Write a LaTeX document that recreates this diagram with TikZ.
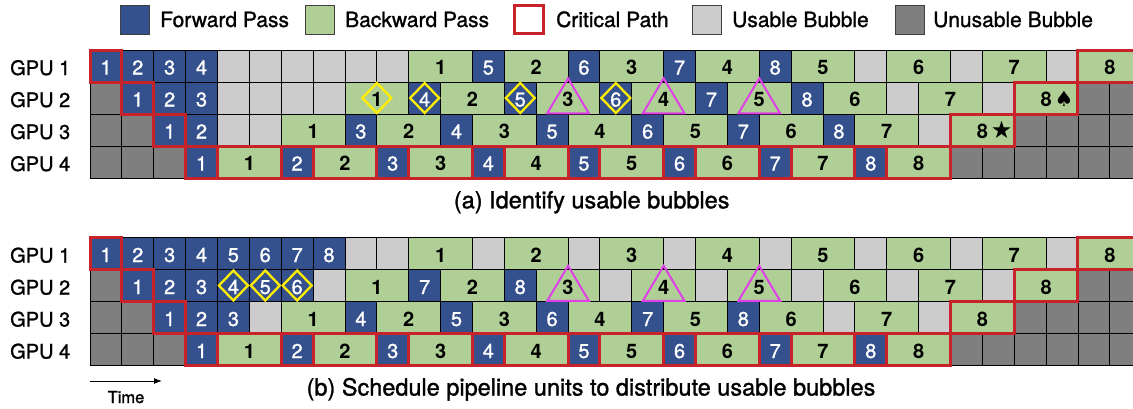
\documentclass[tikz,border=0pt]{standalone}
\usepackage{fontspec}
\setmainfont{TeX Gyre Heros}
\newfontfamily\medfont[FakeBold=1.2]{TeX Gyre Heros}
\newfontfamily\symfont{DejaVu Sans}
\usetikzlibrary{arrows.meta}
\pgfdeclarelayer{fg}
\pgfsetlayers{main,fg}
\definecolor{fwd}{HTML}{34518D}
\definecolor{bwd}{HTML}{B0CF96}
\definecolor{ubub}{HTML}{CCCCCC}
\definecolor{nbub}{HTML}{7F7F7F}
\definecolor{crit}{HTML}{C8232B}
\definecolor{dyel}{HTML}{FFEE00}
\definecolor{tmag}{HTML}{E040E8}
\newcount\colidx
\def\cw{31.87}
\def\rh{32}
\tikzset{
  cellbox/.style={draw=black, line width=0.9pt},
  fwdcell/.style={cellbox, fill=fwd},
  bwdcell/.style={cellbox, fill=bwd},
  ubcell/.style={cellbox, fill=ubub},
  nbcell/.style={cellbox, fill=nbub},
  critline/.style={draw=crit, line width=3pt},
  fwdnum/.style={text=white, font=\medfont\fontsize{20}{20}\selectfont, anchor=base, inner sep=0pt},
  bwdnum/.style={text=black, font=\bfseries\fontsize{20}{20}\selectfont, anchor=base, inner sep=0pt},
  dline/.style={draw=dyel, line width=2.3pt},
  tline/.style={draw=tmag, line width=2pt},
  legbox/.style={draw=black!75, line width=0.8pt},
  legtext/.style={font=\medfont\fontsize{21}{21}\selectfont, anchor=base west, inner sep=0pt},
  gputext/.style={font=\medfont\fontsize{20}{20}\selectfont, anchor=base west, inner sep=0pt},
  captext/.style={font=\medfont\fontsize{23.5}{23.5}\selectfont, anchor=base, inner sep=0pt},
}
\newcommand\spadesym{\rlap{\hspace{3pt}{\symfont\fontsize{21}{21}\selectfont ♠}}}
\newcommand\starsym{\rlap{\hspace{3pt}{\symfont\fontsize{24}{24}\selectfont ★}}}
\newcommand\cellgeo[1]{%
  \pgfmathsetmacro\xa{90+\the\colidx*\cw}%
  \pgfmathsetmacro\xb{\xa+#1*\cw}%
  \pgfmathsetmacro\xm{(\xa+\xb)/2}%
  \pgfmathtruncatemacro\ci{\the\colidx}%
}
\newcommand\cellTU[1]{\cellgeo{1}\path[ubcell] (\xa,\ry) rectangle (\xb,\ry+\rh);\global\advance\colidx by 1\relax}
\newcommand\cellTX[1]{\cellgeo{1}\path[nbcell] (\xa,\ry) rectangle (\xb,\ry+\rh);\global\advance\colidx by 1\relax}
\newcommand\cellTF[1]{\cellgeo{1}\path[fwdcell] (\xa,\ry) rectangle (\xb,\ry+\rh);\node[fwdnum] (\rid-\ci) at (\xm,\ry+24.5) {#1};\global\advance\colidx by 1\relax}
\newcommand\cellTB[1]{\cellgeo{2}\path[bwdcell] (\xa,\ry) rectangle (\xb,\ry+\rh);\node[bwdnum] (\rid-\ci) at (\xm,\ry+24.5) {#1};\global\advance\colidx by 2\relax}
\newcommand\critbox{\begin{pgfonlayer}{fg}\draw[critline] (\xa,\ry) rectangle (\xb,\ry+\rh);\end{pgfonlayer}}
\newcommand\dmark{\begin{pgfonlayer}{fg}\draw[dline] (\xm-14.5,\ry+16) -- (\xm,\ry+1) -- (\xm+14.5,\ry+16) -- (\xm,\ry+31) -- cycle;\end{pgfonlayer}}
\newcommand\tmark{\begin{pgfonlayer}{fg}\draw[tline] (\xm,\ry-3.7) -- (\xm+20.8,\ry+31.3) -- (\xm-20.8,\ry+31.3) -- cycle;\end{pgfonlayer}}
\newcommand\cellTFc[1]{\cellTF{#1}\critbox}
\newcommand\cellTBc[1]{\cellTB{#1}\critbox}
\newcommand\cellTFd[1]{\cellTF{#1}\dmark}
\newcommand\cellTBd[1]{\cellTB{#1}\dmark}
\newcommand\cellTBt[1]{\cellTB{#1}\tmark}
\newcommand\runrow[3]{% #1 id, #2 top y, #3 list
  \def\rid{#1}\def\ry{#2}%
  \global\colidx=0
  \foreach \t/\n in {#3} {\csname cellT\t\endcsname{\n}}%
}
\begin{document}
\begin{tikzpicture}[x=1pt,y=-1pt]
\useasboundingbox (0,0) rectangle (1133,408);
\clip (0,0) rectangle (1133,408);
\fill[white] (0,0) rectangle (1133,408);
% legend
\path[legbox, fill=fwd] (120,5) rectangle (149,34);
\node[legtext] (lf) at (160,27) {Forward Pass};
\path[legbox, fill=bwd] (305.5,5) rectangle (334.5,34);
\node[legtext] (lb) at (345,27) {Backward Pass};
\draw[critline, fill=white] (514.8,5.5) rectangle (543.5,33.5);
\node[legtext] (lc) at (556,27) {Critical Path};
\path[legbox, fill=ubub] (692.5,5) rectangle (721.5,34);
\node[legtext] (lu) at (732,27) {Usable Bubble};
\path[legbox, fill=nbub] (895.5,5) rectangle (924.5,34);
\node[legtext] (ln) at (933,27) {Unusable Bubble};
% ---------- panel (a)
\foreach \i/\y in {1/50,2/82,3/114,4/146} {\node[gputext] (ga\i) at (10,\y+25) {GPU \i};}
\runrow{a1}{50}{Fc/1,F/2,F/3,F/4,U/0,U/0,U/0,U/0,U/0,U/0,B/1,F/5,B/2,F/6,B/3,F/7,B/4,F/8,B/5,U/0,B/6,U/0,B/7,U/0,Bc/8}
\runrow{a2}{82}{X/0,Fc/1,F/2,F/3,U/0,U/0,U/0,U/0,Bd/1,Fd/4,B/2,Fd/5,Bt/3,Fd/6,Bt/4,F/7,Bt/5,F/8,B/6,U/0,B/7,U/0,Bc/8\spadesym,X/0,X/0}
\runrow{a3}{114}{X/0,X/0,Fc/1,F/2,U/0,U/0,B/1,F/3,B/2,F/4,B/3,F/5,B/4,F/6,B/5,F/7,B/6,F/8,B/7,U/0,Bc/8\starsym,X/0,X/0,X/0,X/0}
\runrow{a4}{146}{X/0,X/0,X/0,Fc/1,Bc/1,Fc/2,Bc/2,Fc/3,Bc/3,Fc/4,Bc/4,Fc/5,Bc/5,Fc/6,Bc/6,Fc/7,Bc/7,Fc/8,Bc/8,X/0,X/0,X/0,X/0,X/0,X/0}
\node[captext] (capa) at (591.7,208.3) {(a) Identify usable bubbles};
% ---------- panel (b)
\foreach \i/\y in {1/237.5,2/269.5,3/301.5,4/333.5} {\node[gputext] (gb\i) at (10,\y+25) {GPU \i};}
\runrow{b1}{237.5}{Fc/1,F/2,F/3,F/4,F/5,F/6,F/7,F/8,U/0,U/0,B/1,U/0,B/2,U/0,B/3,U/0,B/4,U/0,B/5,U/0,B/6,U/0,B/7,U/0,Bc/8}
\runrow{b2}{269.5}{X/0,Fc/1,F/2,F/3,Fd/4,Fd/5,Fd/6,U/0,B/1,F/7,B/2,F/8,Bt/3,U/0,Bt/4,U/0,Bt/5,U/0,B/6,U/0,B/7,U/0,Bc/8,X/0,X/0}
\runrow{b3}{301.5}{X/0,X/0,Fc/1,F/2,F/3,U/0,B/1,F/4,B/2,F/5,B/3,F/6,B/4,F/7,B/5,F/8,B/6,U/0,B/7,U/0,Bc/8,X/0,X/0,X/0,X/0}
\runrow{b4}{333.5}{X/0,X/0,X/0,Fc/1,Bc/1,Fc/2,Bc/2,Fc/3,Bc/3,Fc/4,Bc/4,Fc/5,Bc/5,Fc/6,Bc/6,Fc/7,Bc/7,Fc/8,Bc/8,X/0,X/0,X/0,X/0,X/0,X/0}
\node[captext] (capb) at (591,395.5) {(b) Schedule pipeline units to distribute usable bubbles};
% time arrow
\coordinate (t0) at (90,381);
\coordinate (t1) at (162,381);
\draw[line width=1pt, -{Latex[length=8pt,width=6pt]}] (t0) -- (t1);
\node[font=\medfont\fontsize{16.5}{16.5}\selectfont, anchor=base, inner sep=0pt] (time) at (126,403) {Time};
\end{tikzpicture}
\end{document}
